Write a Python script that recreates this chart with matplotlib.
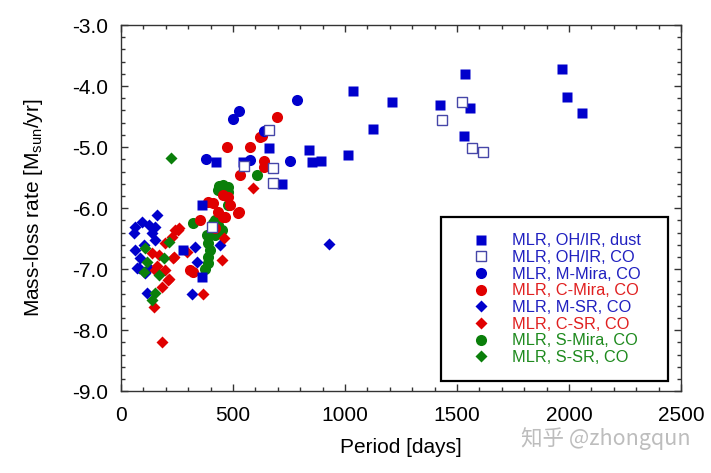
import matplotlib
matplotlib.use("Agg")
import matplotlib.pyplot as plt

plt.rcParams['font.family'] = ['Liberation Sans', 'DejaVu Sans']
plt.rcParams['mathtext.fontset'] = 'custom'
plt.rcParams['mathtext.rm'] = 'Liberation Sans'
plt.rcParams['mathtext.it'] = 'Liberation Sans:italic'

# ---- data (period [days], log mass-loss rate [Msun/yr]) ----
ohir_dust_p = [423, 660, 544, 717, 838, 851, 891, 1012, 1034, 1127, 1212, 1422, 1533,
               1537, 1560, 1970, 1992, 2059, 361, 276, 361]
ohir_dust_m = [-5.25, -5.02, -5.25, -5.61, -5.05, -5.25, -5.23, -5.13, -4.08, -4.70, -4.26,
               -4.31, -4.82, -3.80, -4.36, -3.72, -4.18, -4.44, -5.95, -6.69, -7.13]

ohir_co_p = [660, 677, 677, 548, 1524, 1435, 1569, 1618, 406]
ohir_co_m = [-4.72, -5.34, -5.59, -5.31, -4.26, -4.56, -5.02, -5.08, -6.31]

m_mira_p = [526, 499, 784, 379, 575, 753, 637]
m_mira_m = [-4.41, -4.54, -4.23, -5.20, -5.21, -5.23, -4.74]

c_mira_p = [695, 619, 628, 472, 575, 637, 637, 530, 477, 486, 526, 388, 410, 463, 432,
            455, 521, 352, 307, 321, 455, 420]
c_mira_m = [-4.51, -4.84, -4.82, -5.00, -5.00, -5.23, -5.33, -5.46, -5.82, -5.95, -6.07,
            -5.90, -5.92, -6.15, -6.07, -6.15, -6.08, -6.20, -7.02, -7.05, -5.79, -6.32]

m_sr_p = [160, 94, 62, 58, 125, 151, 138, 151, 102, 85, 80, 107, 125, 116, 316, 441,
          330, 339, 927, 71, 62]
m_sr_m = [-6.11, -6.22, -6.31, -6.41, -6.28, -6.31, -6.41, -6.52, -6.61, -6.82, -6.98,
          -7.07, -6.98, -7.39, -7.41, -6.61, -6.64, -6.89, -6.59, -6.98, -6.69]

c_sr_p = [241, 258, 227, 196, 138, 169, 236, 196, 151, 214, 183, 147, 183, 365, 450,
          588, 459, 294, 254, 209, 162, 232]
c_sr_m = [-6.36, -6.33, -6.47, -6.57, -6.74, -6.77, -6.80, -7.02, -7.02, -7.16, -7.30,
          -7.62, -8.20, -7.41, -6.85, -5.67, -6.49, -6.72, -6.36, -7.18, -6.95, -6.82]

s_mira_p = [606, 455, 432, 477, 477, 321, 419, 406, 383, 388, 397, 388, 388, 374, 432,
            450, 419, 477, 440, 410]
s_mira_m = [-5.46, -5.62, -5.70, -5.74, -5.95, -6.25, -6.20, -6.36, -6.44, -6.57, -6.69,
            -6.80, -6.90, -7.00, -6.28, -6.36, -6.44, -5.66, -5.64, -6.25]

s_sr_p = [223, 107, 116, 102, 192, 169, 151, 138, 214]
s_sr_m = [-5.18, -6.66, -6.89, -7.05, -6.82, -7.10, -7.39, -7.51, -6.56]

labels = ['MLR, OH/IR, dust', 'MLR, OH/IR, CO', 'MLR, M-Mira, CO', 'MLR, C-Mira, CO',
          'MLR, M-SR, CO', 'MLR, C-SR, CO', 'MLR, S-Mira, CO', 'MLR, S-SR, CO']

BLUE = '#0000cc'
RED = '#e00000'
GREEN = '#0a7f0a'
OPEN = '#4646a8'
MS_C = 8.0
MS_S = 7.5
MS_D = 5.8

fig = plt.figure(figsize=(7.11, 4.73), dpi=100)
ax = fig.add_axes([0.170, 0.173, 0.788, 0.774])

ax.plot(s_mira_p, s_mira_m, 'o', ms=MS_C, color=GREEN, mec='none', zorder=3)
ax.plot(c_mira_p, c_mira_m, 'o', ms=MS_C, color=RED, mec='none', zorder=3.1)
ax.plot(m_sr_p, m_sr_m, 'D', ms=MS_D, color=BLUE, mec='none', zorder=3.2)
ax.plot(c_sr_p, c_sr_m, 'D', ms=MS_D, color=RED, mec='none', zorder=3.3)
ax.plot(s_sr_p, s_sr_m, 'D', ms=MS_D, color=GREEN, mec='none', zorder=3.4)
ax.plot(m_mira_p, m_mira_m, 'o', ms=MS_C, color=BLUE, mec='none', zorder=3.5)
ax.plot(ohir_dust_p, ohir_dust_m, 's', ms=MS_S, color=BLUE, mec='none', zorder=3.6)
ax.plot(ohir_co_p, ohir_co_m, 's', ms=7.0, mfc='white', mec=OPEN, mew=1.0, zorder=3.7)

# legend handles (order as in reference)
hs = [
    ax.plot([], [], 's', ms=MS_S, color=BLUE, mec='none')[0],
    ax.plot([], [], 's', ms=7.0, mfc='white', mec=OPEN, mew=1.0)[0],
    ax.plot([], [], 'o', ms=MS_C, color=BLUE, mec='none')[0],
    ax.plot([], [], 'o', ms=MS_C, color=RED, mec='none')[0],
    ax.plot([], [], 'D', ms=MS_D, color=BLUE, mec='none')[0],
    ax.plot([], [], 'D', ms=MS_D, color=RED, mec='none')[0],
    ax.plot([], [], 'o', ms=MS_C, color=GREEN, mec='none')[0],
    ax.plot([], [], 'D', ms=MS_D, color=GREEN, mec='none')[0],
]
tcol = ['#2020c0', '#2020c0', '#2020c0', '#e02020', '#2020c0', '#e02020', '#1e8a1e', '#1e8a1e']
leg = ax.legend(hs, labels, loc='lower left', bbox_to_anchor=(0.571, 0.027, 0.406, 0.45),
                mode='expand', fontsize=11.8, labelcolor=tcol, frameon=True, fancybox=False,
                edgecolor='black', framealpha=1, handlelength=2.9, handletextpad=0.45,
                labelspacing=0.1, borderpad=1.0, borderaxespad=0, numpoints=1)
leg.get_frame().set_linewidth(1.6)
leg.set_zorder(10)

ax.set_xlim(0, 2500)
ax.set_ylim(-9.0, -3.0)
ax.set_xticks([0, 500, 1000, 1500, 2000, 2500])
ax.set_yticks([-9, -8, -7, -6, -5, -4, -3])
ax.set_yticklabels(['-9.0', '-8.0', '-7.0', '-6.0', '-5.0', '-4.0', '-3.0'])
ax.set_xticks(range(0, 2501, 100), minor=True)
ax.set_yticks([-9 + 0.2 * i for i in range(31)], minor=True)
ax.tick_params(which='both', direction='in', top=True, right=True, color='#333333')
ax.tick_params(which='major', length=5, width=1.0, labelsize=15)
ax.tick_params(axis='x', which='major', pad=11)
ax.tick_params(axis='y', which='major', pad=9)
ax.tick_params(which='minor', length=3, width=1.0)
for s in ax.spines.values():
    s.set_linewidth(1.0)
    s.set_color('#333333')

ax.set_xlabel('Period [days]', fontsize=15, labelpad=9)
ax.set_ylabel('Mass-loss rate [M$_{\\rm sun}$/yr]', fontsize=15, labelpad=20)

fig.text(0.852, 0.073, '知乎 @zhongqun', fontsize=15.5, color='#bdbdbd',
         family=['Noto Sans CJK SC', 'DejaVu Sans'], ha='center', va='center')

fig.savefig('out.png', dpi=100)
